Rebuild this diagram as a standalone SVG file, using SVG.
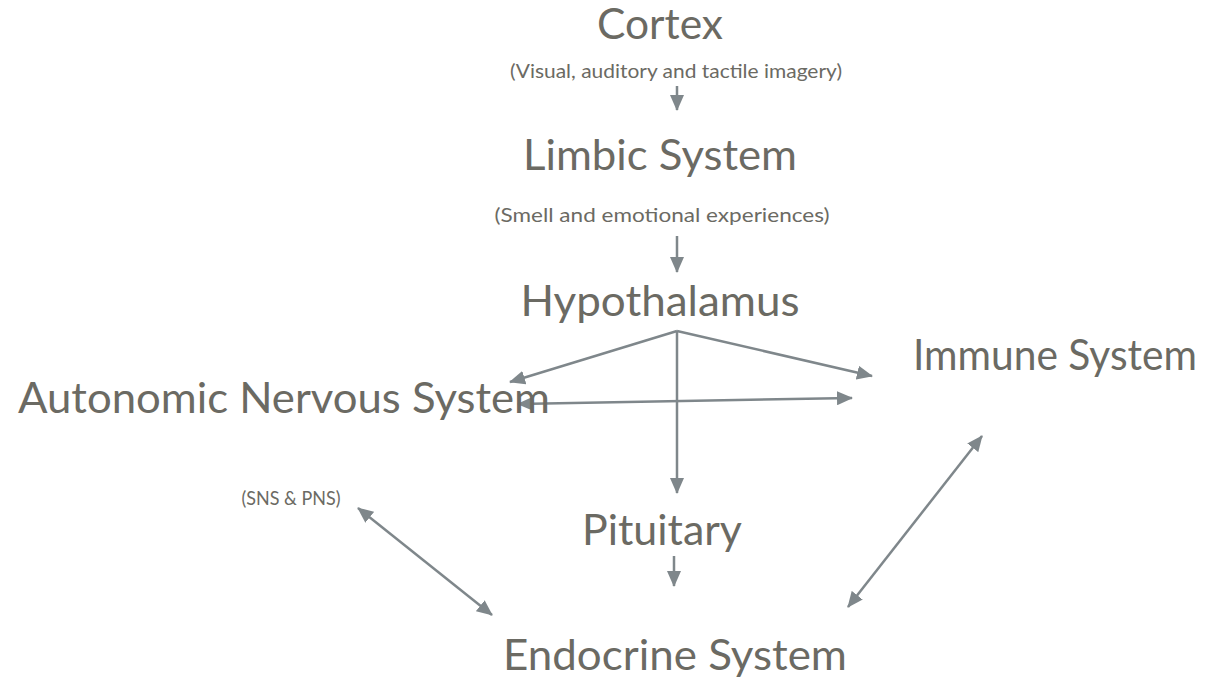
<svg xmlns="http://www.w3.org/2000/svg" width="1228" height="684" viewBox="0 0 1228 684">
<style>
.big{font-family:Lato,"Open Sans","Liberation Sans",sans-serif;font-size:42px;fill:#6b6a63;text-anchor:middle}
.small{font-family:Lato,"Open Sans","Liberation Sans",sans-serif;font-size:19px;fill:#6b6a63;text-anchor:middle}
.conn{stroke:#7f878b;stroke-width:2.5;fill:none}
</style>
<defs>
<marker id="ah" markerUnits="userSpaceOnUse" markerWidth="16" markerHeight="14" refX="15" refY="7" orient="auto-start-reverse" viewBox="0 0 16 14">
<path d="M0,0 L16,7 L0,14 z" fill="#7f878b"/>
</marker>
</defs>
<rect width="1228" height="684" fill="#ffffff"/>
<g id="connectors">
<line class="conn" x1="677" y1="86" x2="677" y2="110" marker-end="url(#ah)"/>
<line class="conn" x1="677" y1="236" x2="677" y2="272" marker-end="url(#ah)"/>
<line class="conn" x1="677" y1="331" x2="510" y2="382" marker-end="url(#ah)"/>
<line class="conn" x1="677" y1="331" x2="872" y2="376" marker-end="url(#ah)"/>
<line class="conn" x1="677" y1="331" x2="677" y2="493" marker-end="url(#ah)"/>
<line class="conn" x1="518" y1="404" x2="852" y2="398" marker-start="url(#ah)" marker-end="url(#ah)"/>
<line class="conn" x1="674" y1="556" x2="674" y2="586" marker-end="url(#ah)"/>
<line class="conn" x1="358" y1="508" x2="492" y2="615" marker-start="url(#ah)" marker-end="url(#ah)"/>
<line class="conn" x1="848" y1="607" x2="982" y2="436" marker-start="url(#ah)" marker-end="url(#ah)"/>
</g>
<g id="cortex">
<text class="big" x="660" y="39" textLength="126" lengthAdjust="spacingAndGlyphs">Cortex</text>
<text class="small" x="676" y="78" textLength="332" lengthAdjust="spacingAndGlyphs">(Visual, auditory and tactile imagery)</text>
</g>
<g id="limbic">
<text class="big" x="660" y="170" textLength="274" lengthAdjust="spacingAndGlyphs">Limbic System</text>
<text class="small" x="662" y="222" textLength="335" lengthAdjust="spacingAndGlyphs">(Smell and emotional experiences)</text>
</g>
<g id="hypothalamus">
<text class="big" x="660" y="316" textLength="279" lengthAdjust="spacingAndGlyphs">Hypothalamus</text>
</g>
<g id="ans">
<text class="big" x="284" y="413" textLength="532" lengthAdjust="spacingAndGlyphs">Autonomic Nervous System</text>
<text class="small" x="291" y="505" textLength="99" lengthAdjust="spacingAndGlyphs">(SNS &amp; PNS)</text>
</g>
<g id="immune">
<text class="big" x="1055" y="370" textLength="284" lengthAdjust="spacingAndGlyphs">Immune System</text>
</g>
<g id="pituitary">
<text class="big" x="662" y="545" textLength="160" lengthAdjust="spacingAndGlyphs">Pituitary</text>
</g>
<g id="endocrine">
<text class="big" x="675" y="670" textLength="344" lengthAdjust="spacingAndGlyphs">Endocrine System</text>
</g>
</svg>
